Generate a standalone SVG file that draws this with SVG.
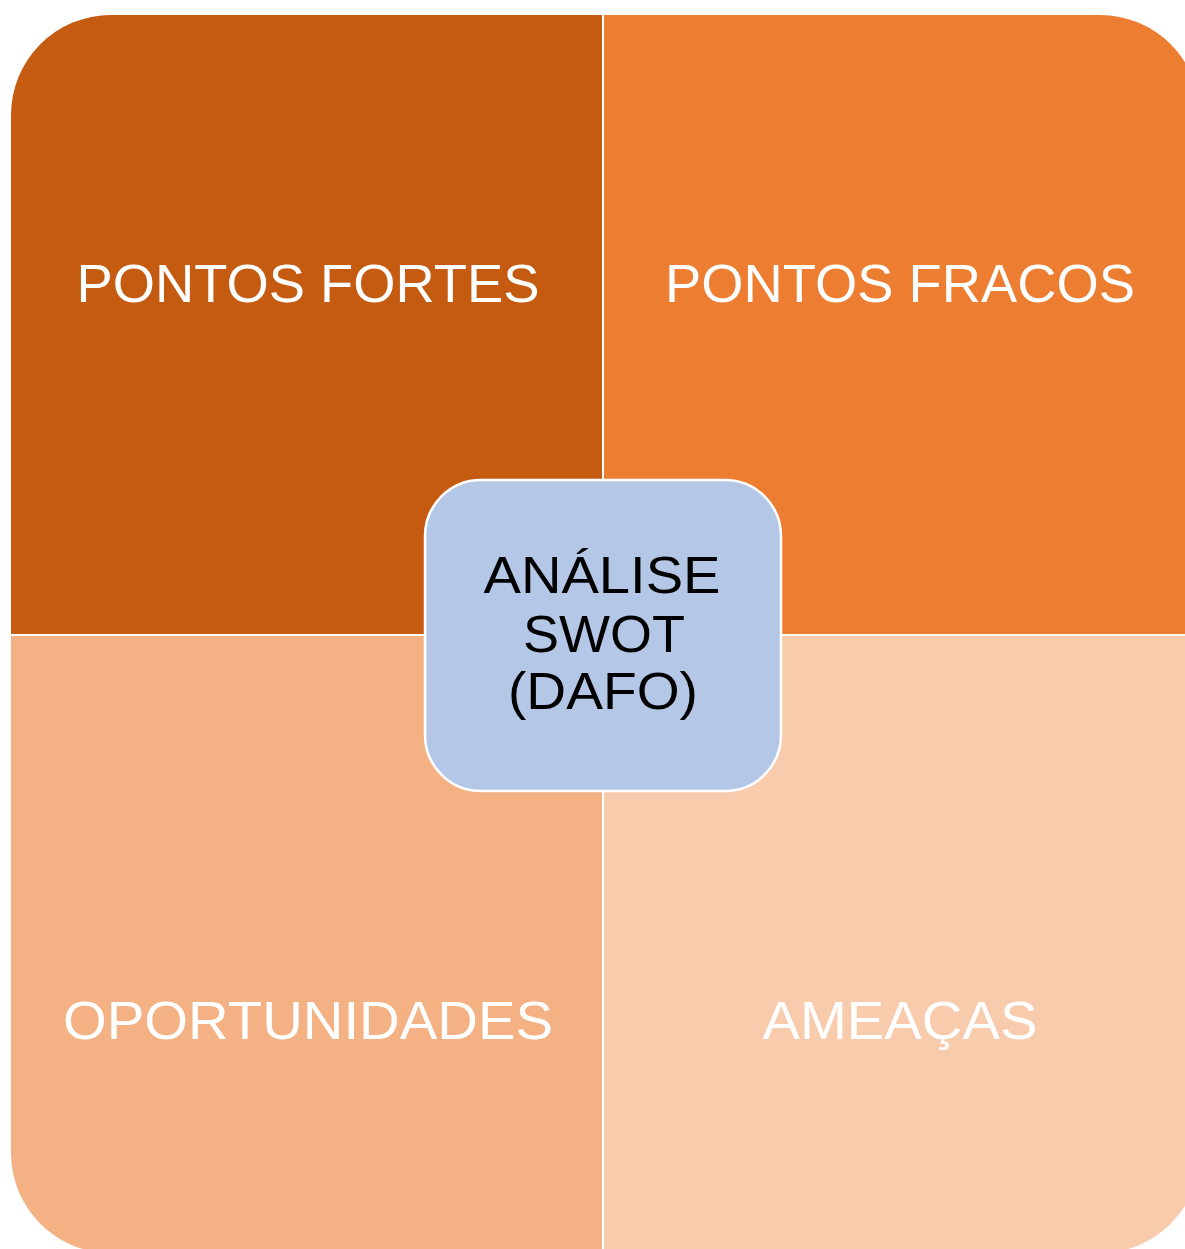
<svg xmlns="http://www.w3.org/2000/svg" width="1185" height="1249" viewBox="0 0 1185 1249">
<style>
.lbl{font-family:"Liberation Sans","Noto Sans",sans-serif;font-size:54px;fill:#ffffff;text-anchor:middle}
.ctr{font-family:"Liberation Sans","Noto Sans",sans-serif;font-size:52px;fill:#000000;text-anchor:middle}
</style>
<defs>
<clipPath id="outer"><rect x="11" y="15" width="1189" height="1238" rx="100" ry="100"/></clipPath>
</defs>
<rect width="1185" height="1249" fill="#ffffff"/>
<g clip-path="url(#outer)">
<g id="forcas"><rect x="11" y="15" width="591" height="619" fill="#C55A11"/></g>
<g id="fraquezas"><rect x="604" y="15" width="600" height="619" fill="#ED7D31"/></g>
<g id="oportunidades"><rect x="11" y="636" width="591" height="620" fill="#F4B183"/></g>
<g id="ameacas"><rect x="604" y="636" width="600" height="620" fill="#F8CBAD"/></g>
</g>
<g id="labels">
<text class="lbl" x="308" y="302" textLength="463" lengthAdjust="spacingAndGlyphs">PONTOS FORTES</text>
<text class="lbl" x="900" y="302" textLength="470" lengthAdjust="spacingAndGlyphs">PONTOS FRACOS</text>
<text class="lbl" x="308" y="1039" textLength="490" lengthAdjust="spacingAndGlyphs">OPORTUNIDADES</text>
<text class="lbl" x="900" y="1039" textLength="275" lengthAdjust="spacingAndGlyphs">AMEAÇAS</text>
</g>
<g id="centro">
<rect x="425" y="480" width="356" height="311" rx="56" ry="56" fill="#B4C7E7" stroke="#ffffff" stroke-width="2.5"/>
<text class="ctr" x="602" y="593" textLength="237" lengthAdjust="spacingAndGlyphs">ANÁLISE</text>
<text class="ctr" x="604" y="652" textLength="162" lengthAdjust="spacingAndGlyphs">SWOT</text>
<text class="ctr" x="603" y="709" textLength="190" lengthAdjust="spacingAndGlyphs">(DAFO)</text>
</g>
<g id="connectors"></g>
</svg>
